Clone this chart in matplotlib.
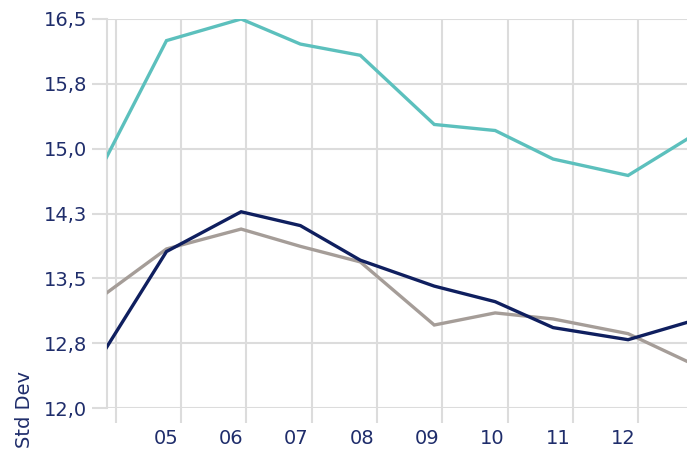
import matplotlib as mpl
import matplotlib.pyplot as plt

mpl.use('Agg')

# x in "month" units, gridlines fall on whole months 4..12
meses = [3.862, 4.780, 5.922, 6.829, 7.746, 8.878, 9.810, 10.697, 11.844, 12.746]
serie_teal = [14.90, 16.25, 16.50, 16.21, 16.08, 15.28, 15.21, 14.88, 14.69, 15.11]
serie_navy = [12.70, 13.81, 14.27, 14.11, 13.71, 13.41, 13.23, 12.93, 12.79, 12.99]
serie_cinza = [13.33, 13.84, 14.07, 13.87, 13.69, 12.96, 13.10, 13.03, 12.86, 12.54]

grade_x = [4, 5, 6, 7, 8, 9, 10, 11, 12]
rotulos_x = ["05", "06", "07", "08", "09", "10", "11", "12"]
grade_y = [12.0, 12.75, 13.5, 14.25, 15.0, 15.75, 16.5]
rotulos_y = ["12,0", "12,8", "13,5", "14,3", "15,0", "15,8", "16,5"]

cor_texto = '#1f2d6b'
cor_grade = '#dcdcdc'

fig = plt.figure(figsize=(6.87, 4.49), dpi=100)
ax = fig.add_axes([106.5 / 687, 1 - 408 / 449, 1 - 106.5 / 687, (408 - 19) / 449])

ax.plot(meses, serie_cinza, color='#a59d98', lw=2.4, solid_joinstyle='miter', zorder=3)
ax.plot(meses, serie_teal, color='#5cc0bd', lw=2.4, solid_joinstyle='miter', zorder=3)
ax.plot(meses, serie_navy, color='#0f1f5f', lw=2.4, solid_joinstyle='miter', zorder=4)

ax.set_xlim(meses[0], meses[-1])
ax.set_ylim(grade_y[0], grade_y[-1])

ax.set_xticks(grade_x)
ax.set_xticklabels([])
ax.set_xticks([g - 0.23 for g in grade_x[1:]], minor=True)
ax.set_xticklabels(rotulos_x, minor=True)
ax.tick_params(axis='x', which='major', length=10.5, width=1.5, color=cor_grade)
ax.tick_params(axis='x', which='minor', length=0, pad=15, labelsize=14, labelcolor=cor_texto)

ax.set_yticks(grade_y)
ax.set_yticklabels(rotulos_y)
ax.tick_params(axis='y', length=11, width=1.5, color=cor_grade, pad=3,
               labelsize=14, labelcolor=cor_texto)

ax.grid(True, which='major', color=cor_grade, lw=1.5, zorder=0)
ax.set_axisbelow(True)
for lado in ['top', 'right', 'bottom']:
    ax.spines[lado].set_visible(False)
ax.spines['left'].set_color(cor_grade)
ax.spines['left'].set_linewidth(1.5)

fig.text(25 / 687, 0.003, "Std Dev", rotation=90, ha='center', va='bottom',
         fontsize=14, color=cor_texto)

plt.savefig('out.png', dpi=100)
